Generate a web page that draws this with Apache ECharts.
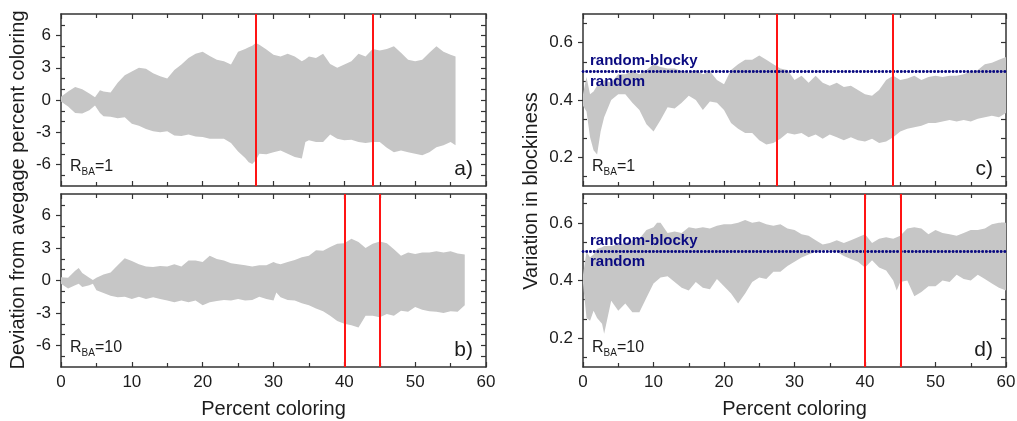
<!DOCTYPE html>
<html>
<head>
<meta charset="utf-8">
<title>Percent coloring bands</title>
<script src="https://cdn.jsdelivr.net/npm/echarts@6/dist/echarts.min.js"></script>
<style>
  html, body { margin: 0; padding: 0; background: #fff; }
  #chart { width: 1017px; height: 421px; }
</style>
</head>
<body>
<div id="chart"></div>
<script>
// ---- data ----
// a) deviation, R_BA = 1
const xA = [0, 1, 2, 3, 4, 4.8, 5.5, 6, 7, 8, 9, 10, 11, 12, 13, 14, 15, 16, 17, 18, 19, 20, 21, 22, 23, 24, 25, 26, 26.5, 27, 27.5,
  28, 29, 30, 31, 32, 33, 34, 34.5, 35, 36, 37, 38, 39, 40, 41, 42, 43, 44, 45, 46, 47, 48, 49, 50, 51, 52, 53, 54, 55, 55.7];
const upperA = [0.3, 0.8, 1.2, 1.0, 0.6, 0.25, 0.9, 0.8, 0.7, 1.6, 2.3, 2.65, 3.0, 2.9, 2.5, 2.2, 2.0, 2.8, 3.3, 3.9, 4.3, 4.5, 4.1, 3.75, 3.6, 3.3, 4.5, 4.75, 4.9, 5.05, 5.3,
  5.15, 4.7, 4.2, 4.05, 4.3, 4.05, 3.6, 3.8, 4.05, 3.9, 4.3, 3.35, 3.0, 3.3, 3.6, 4.3, 4.05, 4.75, 4.6, 4.75, 5.0, 4.4, 3.75, 3.6, 3.75, 4.4, 5.0, 4.5, 4.2, 4.05];
const lowerA = [-0.15, -0.6, -1.2, -1.25, -0.95, -0.5, -1.2, -1.5, -1.55, -1.7, -1.6, -2.2, -2.4, -2.7, -2.9, -3.0, -2.9, -3.3, -3.35, -3.2, -3.4, -3.45, -3.6, -3.6, -3.6, -4.0, -4.8, -5.4, -5.8, -5.95, -5.6,
  -5.0, -5.05, -4.85, -4.7, -5.0, -5.3, -5.45, -3.9, -3.75, -3.9, -3.9, -3.2, -3.6, -3.75, -3.7, -3.9, -4.0, -3.9, -3.9, -4.45, -4.85, -4.7, -4.85, -5.0, -5.15, -4.85, -4.4, -4.2, -3.9, -4.2];

// b) deviation, R_BA = 10
const xB = [0, 1, 2, 2.5, 3, 4, 4.5, 5, 6, 7, 8, 9, 10, 11, 12, 13, 14, 15, 16, 17, 18, 19, 20, 21, 22, 23, 24, 25, 26, 27, 28, 29, 30, 30.4,
  31, 32, 33, 34, 35, 36, 37, 38, 39, 40, 41, 42, 43, 44, 45, 46, 47, 48, 49, 50, 51, 52, 53, 54, 55, 56, 57];
const upperB = [0.3, 0.25, 0.9, 1.15, 0.7, 0.25, 0.05, 0.25, 0.55, 0.75, 1.4, 2.05, 1.8, 1.5, 1.3, 1.25, 1.35, 1.3, 1.5, 1.3, 1.85, 1.85, 1.7, 2.3, 2.0, 1.85, 1.6, 1.5, 1.4, 1.3, 1.4, 1.4, 1.7, 1.6,
  1.5, 1.7, 1.9, 2.15, 2.3, 2.8, 2.75, 3.1, 3.4, 3.45, 3.85, 3.55, 3.0, 3.4, 3.6, 3.45, 2.9, 2.3, 2.6, 2.45, 2.6, 2.6, 2.7, 2.6, 2.7, 2.5, 2.4];
const lowerB = [-0.3, -0.75, -0.45, -0.3, -0.6, -0.45, -0.3, -0.9, -1.15, -1.4, -1.55, -1.5, -1.7, -1.5, -1.7, -1.55, -1.7, -1.85, -2.0, -1.85, -2.0, -1.85, -2.3, -2.0, -1.9, -1.8, -1.85, -1.7, -1.85, -1.8, -1.5, -1.7, -1.85, -1.1,
  -1.55, -1.8, -1.85, -2.1, -2.3, -2.6, -2.85, -3.25, -3.75, -4.0, -4.15, -4.35, -3.25, -3.25, -3.4, -3.1, -3.25, -2.8, -2.9, -2.45, -2.7, -2.85, -2.9, -3.0, -2.85, -2.9, -2.3];

// c) blockiness, R_BA = 1
const xC = [0, 0.5, 1, 1.5, 2, 2.5, 3, 4, 5, 6, 7, 8, 9, 10, 11, 12, 13, 14, 15, 16, 17, 18, 19, 20, 21, 22, 23, 24, 25, 26, 27, 28, 29, 30,
  31, 32, 33, 34, 35, 36, 37, 38, 39, 40, 41, 42, 43, 44, 45, 46, 47, 48, 49, 50, 51, 52, 53, 54, 55, 56, 57, 58, 59, 60];
const upperC = [0.42, 0.48, 0.42, 0.43, 0.45, 0.46, 0.47, 0.46, 0.49, 0.49, 0.5, 0.49, 0.505, 0.525, 0.515, 0.51, 0.51, 0.5, 0.495, 0.505, 0.49, 0.5, 0.47, 0.455, 0.505, 0.525, 0.54, 0.54, 0.555, 0.54, 0.525, 0.51, 0.505, 0.47,
  0.485, 0.46, 0.485, 0.46, 0.45, 0.46, 0.445, 0.45, 0.435, 0.42, 0.415, 0.435, 0.47, 0.485, 0.47, 0.475, 0.485, 0.47, 0.48, 0.485, 0.48, 0.485, 0.485, 0.49, 0.5, 0.505, 0.525, 0.53, 0.54, 0.55];
const lowerC = [0.38, 0.36, 0.27, 0.225, 0.21, 0.29, 0.34, 0.4, 0.42, 0.42, 0.39, 0.365, 0.315, 0.29, 0.33, 0.375, 0.37, 0.39, 0.415, 0.4, 0.365, 0.395, 0.39, 0.365, 0.32, 0.3, 0.285, 0.285, 0.26, 0.245, 0.25, 0.265, 0.285, 0.28,
  0.285, 0.27, 0.28, 0.265, 0.28, 0.27, 0.26, 0.27, 0.26, 0.255, 0.265, 0.25, 0.255, 0.27, 0.29, 0.3, 0.305, 0.31, 0.32, 0.32, 0.325, 0.33, 0.325, 0.33, 0.325, 0.335, 0.34, 0.345, 0.34, 0.355];

// d) blockiness, R_BA = 10
const xD = [0, 0.5, 1, 1.5, 2, 2.7, 3, 4, 5, 6, 7, 8, 9, 10, 10.5, 11, 12, 13, 14, 15, 16, 17, 18, 19, 20, 21, 22, 23, 24, 25, 26, 27, 28, 29, 30,
  31, 32, 33, 34, 35, 36, 37, 38, 39, 40, 41, 42, 43, 44, 44.5, 45, 46, 47, 48, 49, 50, 51, 52, 53, 54, 55, 56, 57, 58, 59, 60];
const upperD = [0.42, 0.5, 0.48, 0.49, 0.51, 0.515, 0.52, 0.52, 0.525, 0.53, 0.54, 0.545, 0.575, 0.585, 0.6, 0.6, 0.565, 0.57, 0.565, 0.585, 0.58, 0.585, 0.58, 0.59, 0.595, 0.595, 0.6, 0.61, 0.6, 0.605, 0.595, 0.59, 0.595, 0.58, 0.575,
  0.56, 0.555, 0.54, 0.525, 0.53, 0.54, 0.53, 0.54, 0.55, 0.56, 0.53, 0.545, 0.55, 0.545, 0.55, 0.555, 0.58, 0.585, 0.58, 0.56, 0.575, 0.565, 0.56, 0.555, 0.565, 0.575, 0.575, 0.58, 0.595, 0.6, 0.6];
const lowerD = [0.39, 0.27, 0.26, 0.295, 0.27, 0.25, 0.215, 0.33, 0.295, 0.32, 0.29, 0.29, 0.34, 0.39, 0.4, 0.41, 0.415, 0.395, 0.375, 0.365, 0.395, 0.375, 0.37, 0.405, 0.38, 0.355, 0.32, 0.355, 0.395, 0.41, 0.405, 0.43, 0.43, 0.45, 0.465,
  0.48, 0.49, 0.5, 0.505, 0.505, 0.5, 0.485, 0.475, 0.465, 0.445, 0.47, 0.445, 0.435, 0.4, 0.365, 0.395, 0.4, 0.345, 0.36, 0.38, 0.38, 0.4, 0.395, 0.42, 0.405, 0.4, 0.42, 0.405, 0.39, 0.375, 0.365];

// vertical red markers (percent coloring)
const redLinesTop = [27.5, 44];
const redLinesBottom = [40, 45];
// random / random-blocky boundary
const randomLevel = 0.5;

// axis ticks
const xTicks = { min: 0, max: 60, step: 10 };
const devTicks = [-6, -3, 0, 3, 6];
const blockTicks = [0.2, 0.4, 0.6];
const panelLetters = ['a)', 'b)', 'c)', 'd)'];
const rbaValues = ['1', '10', '1', '10'];

// ---- layout / style ----
const FONT = "'Liberation Sans', Arial, Helvetica, sans-serif";
const INK = '#1c1c1c';
const AXIS = '#333333';
const GRAY = '#c6c6c6';
const RED = '#ff1414';
const NAVY = '#0a0a80';

const grids = [
    { left: 61, top: 14, width: 425, height: 172 },
    { left: 61, top: 194, width: 425, height: 173 },
    { left: 583, top: 14, width: 423, height: 172 },
    { left: 583, top: 194, width: 423, height: 173 },
];

const panels = [
    { xs: xA, up: upperA, lo: lowerA, reds: redLinesTop, range: [-8, 8], majors: devTicks, step: 1, dotted: false },
    { xs: xB, up: upperB, lo: lowerB, reds: redLinesBottom, range: [-8, 8], majors: devTicks, step: 1, dotted: false },
    { xs: xC, up: upperC, lo: lowerC, reds: redLinesTop, range: [0.1, 0.7], majors: blockTicks, step: 0.2 / 3, dotted: true },
    { xs: xD, up: upperD, lo: lowerD, reds: redLinesBottom, range: [0.1, 0.7], majors: blockTicks, step: 0.2 / 3, dotted: true },
];

function tickList(majors, step, min, max) {
    let v = majors[0];
    while (v - step > min + 1e-9) v -= step;
    const out = [];
    for (; v < max - 1e-9; v += step) out.push(+v.toFixed(6));
    return out;
}

// whole band as one polygon: lower edge forward, upper edge back
function bandRenderer(rows) {
    return function (params, api) {
        if (params.dataIndex !== 0) return null;
        const pts = [];
        rows.forEach(r => pts.push(api.coord([r[0], r[1]])));
        for (let k = rows.length - 1; k >= 0; k--) pts.push(api.coord([rows[k][0], rows[k][2]]));
        return {
            type: 'polygon',
            shape: { points: pts },
            style: { fill: GRAY },
            silent: true,
        };
    };
}

const dottedStyle = { color: NAVY, width: 2.6, type: [0.1, 3.6], cap: 'round' };
const randomLabel = { show: true, color: NAVY, fontWeight: 'bold', fontSize: 15, fontFamily: FONT, distance: [7, 3] };

const xAxis = [];
const yAxis = [];
const series = [];
const graphic = [];

panels.forEach((p, i) => {
    const bottomRow = i % 2 === 1;
    const [ymin, ymax] = p.range;
    const all = tickList(p.majors, p.step, ymin, ymax);
    const minors = all.filter(v => !p.majors.some(m => Math.abs(m - v) < 1e-6));
    const lineStyle = { color: AXIS, width: 1.5 };
    const tickStyle = { color: AXIS, width: 1.2 };

    ['bottom', 'top'].forEach(pos => {
        const labelled = pos === 'bottom' && bottomRow;
        xAxis.push({
            gridIndex: i,
            type: 'value',
            position: pos,
            min: xTicks.min,
            max: xTicks.max,
            interval: xTicks.step,
            axisLine: { show: true, onZero: false, lineStyle },
            axisTick: { show: true, inside: true, length: 5, lineStyle: tickStyle },
            minorTick: { show: true, splitNumber: 2, length: 4, lineStyle: tickStyle },
            axisLabel: { show: labelled, margin: 7, fontSize: 17, color: INK, fontFamily: FONT },
            splitLine: { show: false },
            minorSplitLine: { show: false },
            name: labelled ? 'Percent coloring' : '',
            nameLocation: 'middle',
            nameGap: 32,
            nameTextStyle: { fontSize: 20, color: INK, fontFamily: FONT },
        });
    });

    // left: labels + major ticks outside
    yAxis.push({
        gridIndex: i, type: 'value', position: 'left', min: ymin, max: ymax,
        axisLine: { show: true, onZero: false, lineStyle },
        axisTick: { show: true, inside: false, length: 5, customValues: p.majors, lineStyle: tickStyle },
        axisLabel: { show: true, customValues: p.majors, margin: 10, fontSize: 17, color: INK, fontFamily: FONT },
        splitLine: { show: false },
    });
    // left: minor ticks inside
    yAxis.push({
        gridIndex: i, type: 'value', position: 'left', min: ymin, max: ymax,
        axisLine: { show: false, onZero: false },
        axisTick: { show: true, inside: true, length: 4, customValues: minors, lineStyle: tickStyle },
        axisLabel: { show: false },
        splitLine: { show: false },
    });
    // right frame
    yAxis.push({
        gridIndex: i, type: 'value', position: 'right', min: ymin, max: ymax,
        axisLine: { show: true, onZero: false, lineStyle },
        axisTick: { show: true, inside: true, length: 5, customValues: all, lineStyle: tickStyle },
        axisLabel: { show: false },
        splitLine: { show: false },
    });

    const xIdx = i * 2;
    const yIdx = i * 3;
    const rows = p.xs.map((x, k) => [x, p.lo[k], p.up[k]]);

    series.push({
        type: 'custom',
        xAxisIndex: xIdx,
        yAxisIndex: yIdx,
        data: rows,
        encode: { x: 0, y: [1, 2] },
        renderItem: bandRenderer(rows),
        silent: true,
        z: 2,
    });

    if (p.dotted) {
        // second carrier: only the "random" label under the boundary
        series.push({
            type: 'line',
            xAxisIndex: xIdx,
            yAxisIndex: yIdx,
            symbol: 'none',
            showSymbol: false,
            lineStyle: { width: 0, opacity: 0 },
            data: rows.map(r => [r[0], r[2]]),
            silent: true,
            z: 2.5,
            markLine: {
                silent: true,
                symbol: ['none', 'none'],
                animation: false,
                emphasis: { disabled: true },
                lineStyle: dottedStyle,
                label: Object.assign({}, randomLabel, { position: 'insideStartBottom', formatter: 'random' }),
                data: [{ yAxis: randomLevel }],
            },
        });
    }

    const markData = [];
    if (p.dotted) {
        markData.push({
            yAxis: randomLevel,
            lineStyle: dottedStyle,
            label: Object.assign({}, randomLabel, { position: 'insideStartTop', formatter: 'random-blocky' }),
        });
    }
    p.reds.forEach(v => markData.push({ xAxis: v }));

    // carrier series for the reference lines (draws no line itself)
    series.push({
        type: 'line',
        xAxisIndex: xIdx,
        yAxisIndex: yIdx,
        symbol: 'none',
        showSymbol: false,
        lineStyle: { width: 0, opacity: 0 },
        data: rows.map(r => [r[0], r[1]]),
        silent: true,
        z: 3,
        markLine: {
            silent: true,
            symbol: ['none', 'none'],
            animation: false,
            label: { show: false },
            lineStyle: { color: RED, width: 2, type: 'solid' },
            emphasis: { disabled: true },
            data: markData,
        },
    });

    const g = grids[i];
    graphic.push({
        type: 'text',
        x: g.left + 9,
        y: g.top + g.height - 19,
        silent: true,
        z: 100,
        style: {
            text: '{r|R}{s|BA}{r|=' + rbaValues[i] + '}',
            verticalAlign: 'middle',
            fill: INK,
            rich: {
                r: { fontSize: 16, lineHeight: 20, fontFamily: FONT, fill: INK },
                s: { fontSize: 10, lineHeight: 8, verticalAlign: 'bottom', fontFamily: FONT, fill: INK },
            },
        },
    });
    graphic.push({
        type: 'text',
        x: g.left + g.width - 13,
        y: g.top + g.height - 17,
        silent: true,
        z: 100,
        style: {
            text: panelLetters[i],
            align: 'right',
            verticalAlign: 'middle',
            fontSize: 21,
            fontFamily: FONT,
            fill: INK,
        },
    });
});

// vertical axis titles spanning both rows
graphic.push({
    type: 'text', x: 18, y: 190, rotation: Math.PI / 2, silent: true,
    style: { text: 'Deviation from avegage percent coloring', align: 'center', verticalAlign: 'middle', fontSize: 20, fontFamily: FONT, fill: INK },
});
graphic.push({
    type: 'text', x: 531, y: 191, rotation: Math.PI / 2, silent: true,
    style: { text: 'Variation in blockiness', align: 'center', verticalAlign: 'middle', fontSize: 20, fontFamily: FONT, fill: INK },
});

const chart = echarts.init(document.getElementById('chart'), null, { renderer: 'canvas' });
chart.setOption({
    animation: false,
    backgroundColor: '#ffffff',
    grid: grids.map(g => Object.assign({ containLabel: false, outerBoundsMode: 'none' }, g)),
    xAxis,
    yAxis,
    series,
    graphic,
});
</script>
</body>
</html>
